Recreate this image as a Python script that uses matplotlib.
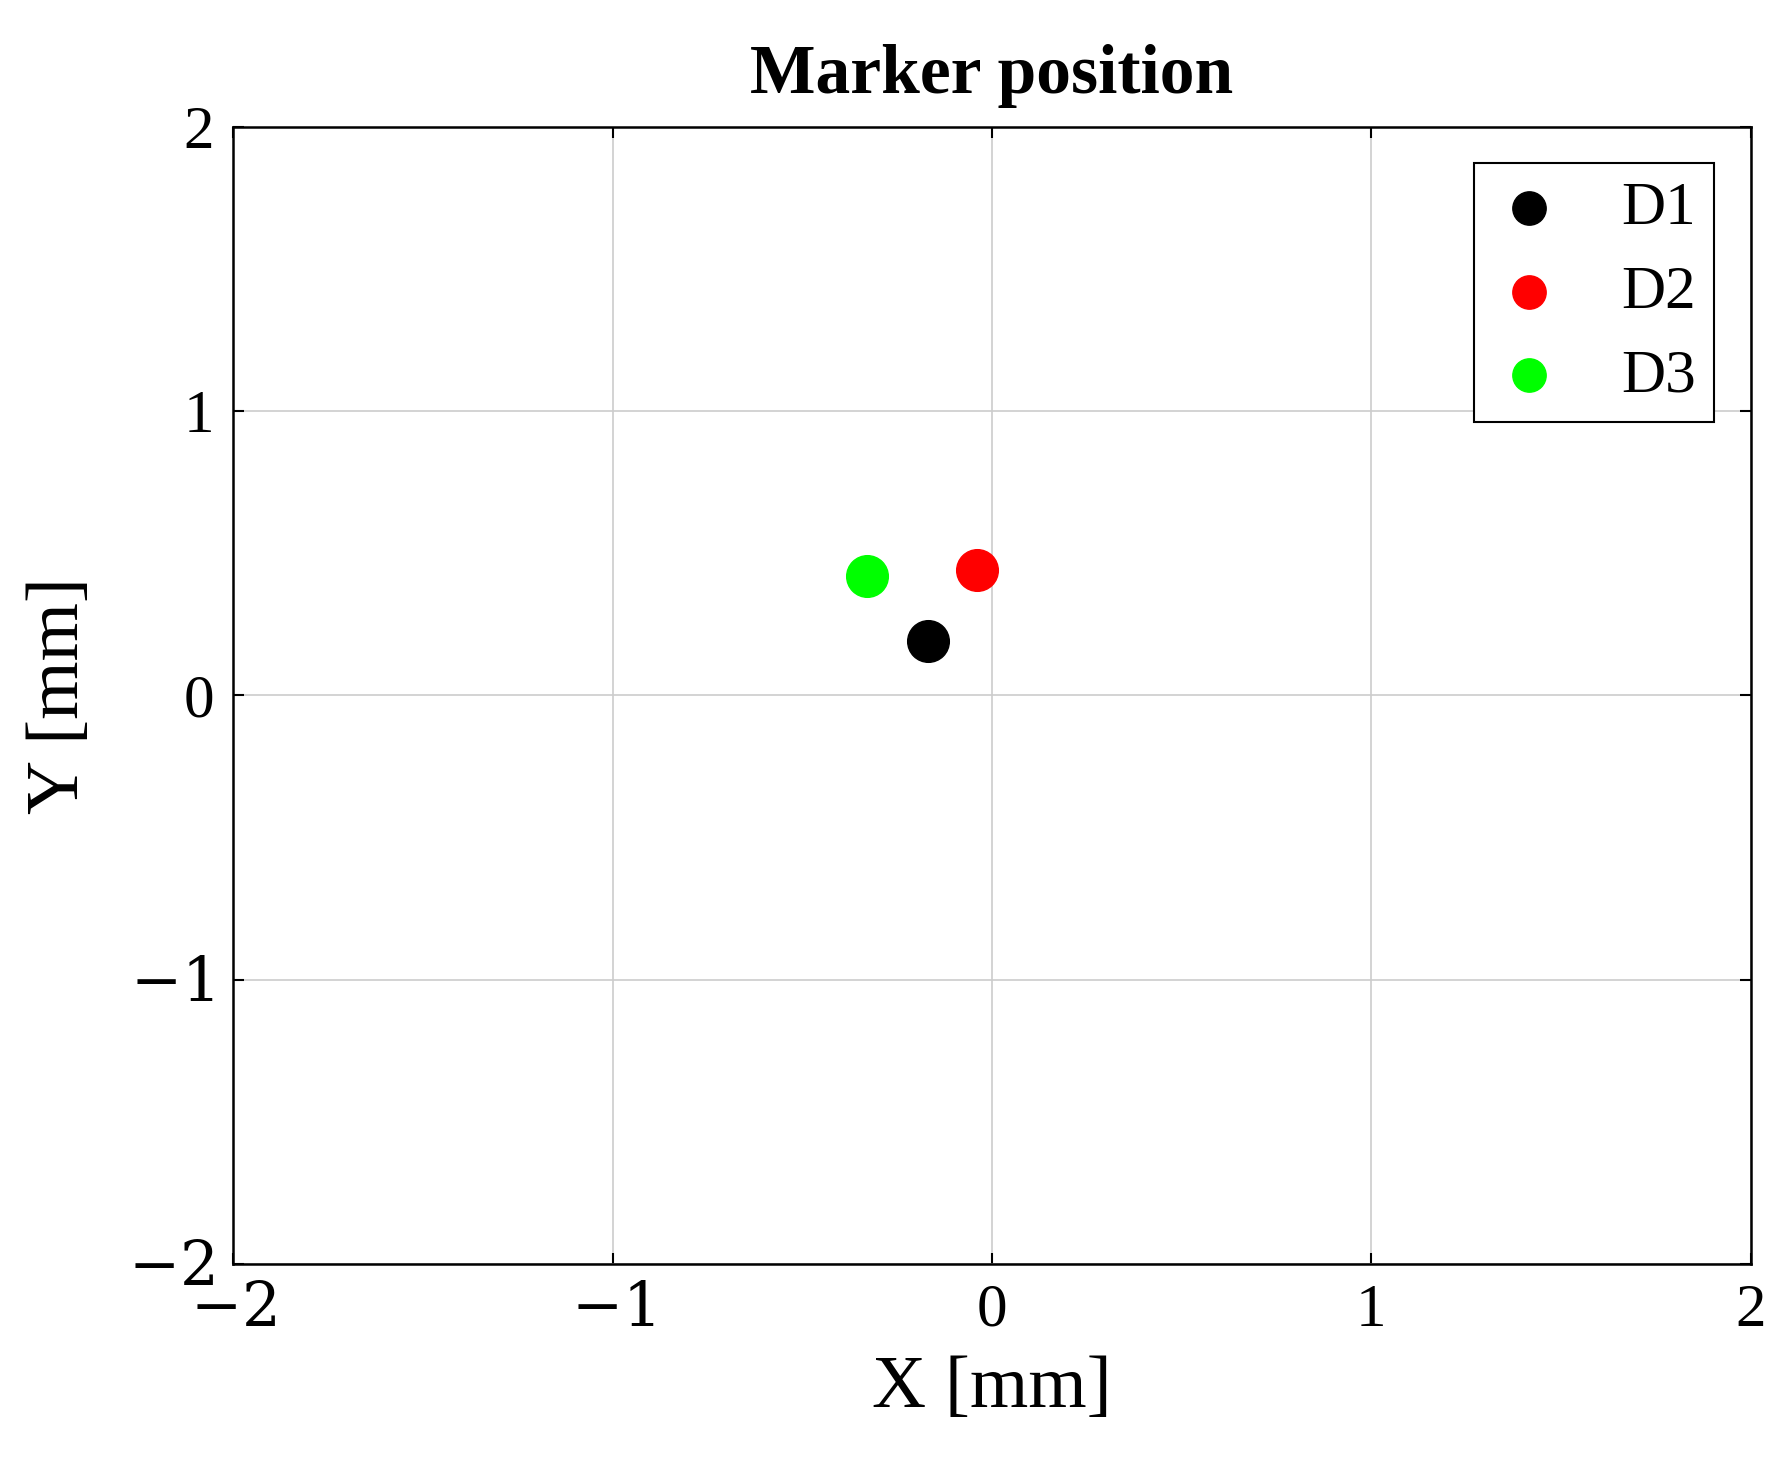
import matplotlib.pyplot as plt

LABELS = ["D1", "D2", "D3"]
X_MM = [-0.17, -0.04, -0.33]
Y_MM = [0.19, 0.44, 0.42]
COLORS = ["#000000", "#ff0000", "#00ff00"]
TICKS = [-2, -1, 0, 1, 2]

plt.rcParams.update({
    "font.family": ["Liberation Serif", "DejaVu Serif"],
    "mathtext.fontset": "dejavuserif",
    "font.size": 40,
})

fig = plt.figure(figsize=(17.81, 14.73), dpi=100)
ax = fig.add_axes([0.131, 0.142, 0.852, 0.772])
for x, y, c, lab in zip(X_MM, Y_MM, COLORS, LABELS):
    ax.scatter([x], [y], s=900, color=c, label=lab, zorder=3)
ax.set_xlim(-2, 2)
ax.set_ylim(-2, 2)
ax.set_xticks(TICKS)
ax.set_yticks(TICKS)
ax.set_xticklabels([f"${t}$" if t < 0 else str(t) for t in TICKS])
ax.set_yticklabels([f"${t}$" if t < 0 else str(t) for t in TICKS])
ax.tick_params(direction="in", top=True, right=True, length=8, width=1.5, labelsize=44, pad=14)
ax.grid(color="#cccccc", linewidth=1.2)
for s in ax.spines.values():
    s.set_linewidth(1.8)
ax.set_xlabel("X [mm]", fontsize=54, labelpad=12)
ax.set_ylabel("Y [mm]", fontsize=54, labelpad=24)
ax.set_title("Marker position", fontsize=50, fontweight="bold", pad=24)
leg = ax.legend(loc="upper right", fontsize=44, fancybox=False, edgecolor="black",
                framealpha=1, markerscale=0.8, borderpad=0.3, handlelength=1.2,
                handletextpad=0.9, labelspacing=0.45, borderaxespad=0.6)
leg.get_frame().set_linewidth(1.5)
fig.savefig("out.png", dpi=100)
